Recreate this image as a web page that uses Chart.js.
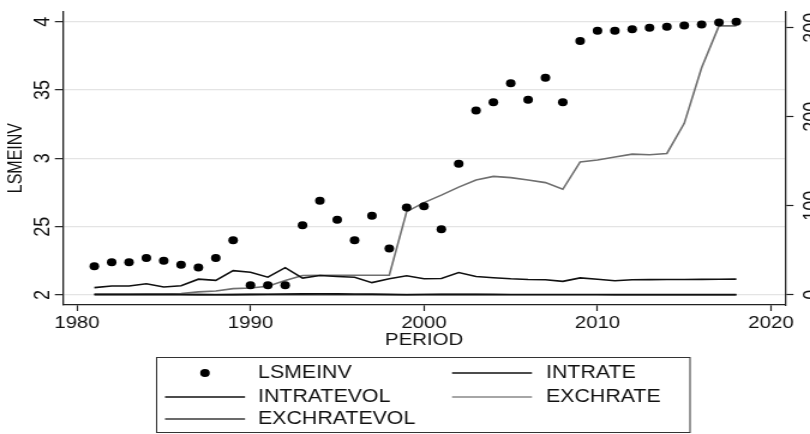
<!DOCTYPE html>
<html>
<head>
<meta charset="utf-8">
<script src="https://cdn.jsdelivr.net/npm/chart.js@4/dist/chart.umd.min.js"></script>
<style>
  html, body { margin: 0; padding: 0; background: #fff; }
  #wrap { width: 675px; height: 434px; transform: scaleX(1.2); transform-origin: 0 0; }
  canvas { display: block; }
</style>
</head>
<body>
<div id="wrap"><canvas id="c" width="675" height="434" style="width:675px;height:434px"></canvas></div>
<script>
// ---- data ----
const years = [1981,1982,1983,1984,1985,1986,1987,1988,1989,1990,1991,1992,1993,1994,1995,1996,1997,1998,1999,2000,2001,2002,2003,2004,2005,2006,2007,2008,2009,2010,2011,2012,2013,2014,2015,2016,2017,2018];
const lsmeinv = [2.21,2.24,2.24,2.27,2.25,2.22,2.20,2.27,2.40,2.07,2.07,2.07,2.51,2.69,2.55,2.40,2.58,2.34,2.64,2.65,2.48,2.96,3.35,3.41,3.55,3.43,3.59,3.41,3.86,3.935,3.935,3.945,3.957,3.964,3.973,3.981,3.995,4.00];
const intrate = [8.1,9.9,9.9,12.5,8.8,10.3,17.6,16.2,27.2,25.4,19.8,30.5,18.8,21.7,20.6,19.8,13.7,18.0,21.4,18.0,18.4,25.0,20.6,19.2,18.0,17.3,17.0,15.1,19.0,17.6,15.9,16.9,17.1,17.2,17.2,17.4,17.5,17.6];
const intratevol = [0.5,0.5,0.5,0.5,0.5,0.4,0.2,0.1,0.3,0.5,0.7,0.9,1.1,1.2,1.1,1.0,0.8,0.5,0.1,0.4,0.5,0.5,0.5,0.5,0.4,0.4,0.4,0.4,0.4,0.4,0.3,0.3,0.3,0.3,0.3,0.3,0.3,0.3];
const exchrate = [0.6,0.7,0.7,0.8,0.9,1.5,3.3,4.4,7.0,7.7,9.6,16.0,21.7,22.0,22.0,22.0,22.0,22.0,93.4,103.6,112.0,121.0,129.0,133.0,131.6,129.0,126.0,118.5,149.3,151.5,154.8,158.0,157.3,158.8,192.6,255.0,302.0,302.0];
const exchratevol = [0.1,0.1,0.1,0.1,0.1,0.2,0.2,0.2,0.2,0.2,0.2,0.2,0.2,0.1,0.1,0.1,0.1,0.1,0.2,0.2,0.2,0.2,0.2,0.1,0.1,0.1,0.1,0.1,0.1,0.1,0.1,0.1,0.1,0.1,0.1,0.1,0.1,0.1];

const xTicks = [1980, 1990, 2000, 2010, 2020];
const yTicks = [2, 2.5, 3, 3.5, 4];
const yTickLabels = ['2', '25', '3', '35', '4'];
const y2Ticks = [0, 100, 200, 300];
const y2TickLabels = ['0', '100', '200', '300'];

const seriesNames = ['LSMEINV', 'INTRATE', 'INTRATEVOL', 'EXCHRATE', 'EXCHRATEVOL'];
const xTitle = 'PERIOD';
const yTitle = 'LSMEINV';

// ---- helpers ----
const pts = (arr) => years.map((yr, i) => ({ x: yr, y: arr[i] }));
const FONT = "'Liberation Sans', Arial, Helvetica, sans-serif";
Chart.defaults.font.family = FONT;
Chart.defaults.color = '#111';

const AXIS = '#222';
const C_INT = '#111111';
const C_INTV = '#111111';
const C_EX = '#6f6f6f';
const C_EXV = '#3a3a3a';

const legendPlugin = {
  id: 'stataLegend',
  afterDraw(chart) {
    const ctx = chart.ctx;
    ctx.save();
    ctx.strokeStyle = '#333';
    ctx.lineWidth = 1;
    ctx.strokeRect(130.5, 357.5, 444.5, 75);
    ctx.font = '17.8px ' + FONT;
    ctx.fillStyle = '#111';
    ctx.textBaseline = 'middle';
    ctx.textAlign = 'left';
    const rows = [373, 397, 419];
    ctx.beginPath();
    ctx.arc(170.8, rows[0], 4, 0, Math.PI * 2);
    ctx.fillStyle = '#000';
    ctx.fill();
    ctx.fillStyle = '#111';
    ctx.fillText(seriesNames[0], 215, rows[0]);
    const seg = (x1, x2, y, col) => {
      ctx.beginPath(); ctx.strokeStyle = col; ctx.lineWidth = 1.6;
      ctx.moveTo(x1, y); ctx.lineTo(x2, y); ctx.stroke();
    };
    seg(376.7, 443.3, rows[0], C_INT);
    ctx.fillText(seriesNames[1], 455, rows[0]);
    seg(137.5, 204.2, rows[1], C_INTV);
    ctx.fillText(seriesNames[2], 215, rows[1]);
    seg(376.7, 443.3, rows[1], '#888');
    ctx.fillText(seriesNames[3], 455, rows[1]);
    seg(137.5, 204.2, rows[2], C_EXV);
    ctx.fillText(seriesNames[4], 215, rows[2]);
    ctx.restore();
  }
};

const bgPlugin = {
  id: 'bg',
  beforeDraw(chart) {
    const ctx = chart.ctx;
    ctx.save(); ctx.fillStyle = '#fff'; ctx.fillRect(0, 0, chart.width, chart.height); ctx.restore();
  }
};

new Chart(document.getElementById('c'), {
  type: 'line',
  data: {
    datasets: [
      { label: seriesNames[0], data: pts(lsmeinv), yAxisID: 'y', showLine: false,
        pointRadius: 4, pointHoverRadius: 4, pointStyle: 'circle',
        backgroundColor: '#000', borderColor: '#000', pointBorderWidth: 0 },
      { label: seriesNames[1], data: pts(intrate), yAxisID: 'y2', borderColor: C_INT, borderWidth: 1.6, pointRadius: 0, fill: false },
      { label: seriesNames[2], data: pts(intratevol), yAxisID: 'y2', borderColor: C_INTV, borderWidth: 1.6, pointRadius: 0, fill: false },
      { label: seriesNames[3], data: pts(exchrate), yAxisID: 'y2', borderColor: C_EX, borderWidth: 1.6, pointRadius: 0, fill: false },
      { label: seriesNames[4], data: pts(exchratevol), yAxisID: 'y2', borderColor: C_EXV, borderWidth: 1.6, pointRadius: 0, fill: false }
    ]
  },
  options: {
    responsive: false,
    devicePixelRatio: 1,
    animation: false,
    events: [],
    layout: { padding: { top: 6, left: 0, right: 0, bottom: 84 } },
    plugins: { legend: { display: false }, tooltip: { enabled: false } },
    scales: {
      x: {
        type: 'linear', position: 'bottom', min: 1979.21, max: 2020.81,
        afterBuildTicks: (s) => { s.ticks = xTicks.map(v => ({ value: v })); },
        ticks: { font: { size: 17 }, color: '#111', padding: 2, maxRotation: 0, autoSkip: false,
                 callback: (v) => String(v) },
        grid: { drawOnChartArea: false, drawTicks: true, tickLength: 6, tickColor: AXIS, tickWidth: 1.2 },
        border: { display: true, color: AXIS, width: 1.3 },
        title: { display: true, text: xTitle, font: { size: 17 }, color: '#111', padding: { top: 0, bottom: -1 } },
        afterFit: (s) => { s.height = 45; }
      },
      y: {
        type: 'linear', position: 'left', min: 1.926, max: 4.077,
        afterBuildTicks: (s) => { s.ticks = yTicks.map(v => ({ value: v })); },
        ticks: { font: { size: 18 }, color: '#111', minRotation: 90, maxRotation: 90, crossAlign: 'center',
                 padding: 0, autoSkip: false, callback: (v) => yTickLabels[yTicks.indexOf(v)] },
        grid: { color: '#e4e4e4', lineWidth: 1.3, drawTicks: true, tickLength: 7, tickColor: AXIS, tickWidth: 1.2 },
        border: { display: true, color: AXIS, width: 1.3 },
        title: { display: true, text: yTitle, font: { size: 16 }, color: '#111', padding: { top: 3.5, bottom: 0 } },
        afterFit: (s) => { s.width = 52.7; }
      },
      y2: {
        type: 'linear', position: 'right', min: -11.4, max: 318.4,
        afterBuildTicks: (s) => { s.ticks = y2Ticks.map(v => ({ value: v })); },
        ticks: { font: { size: 18 }, color: '#111', minRotation: 90, maxRotation: 90, crossAlign: 'center',
                 padding: 0.5, autoSkip: false, callback: (v) => y2TickLabels[y2Ticks.indexOf(v)] },
        grid: { drawOnChartArea: false, drawTicks: true, tickLength: 7, tickColor: AXIS, tickWidth: 1.2 },
        border: { display: true, color: AXIS, width: 1.3 },
        afterFit: (s) => { s.width = 20.8; }
      }
    }
  },
  plugins: [bgPlugin, legendPlugin]
});
</script>
</body>
</html>
